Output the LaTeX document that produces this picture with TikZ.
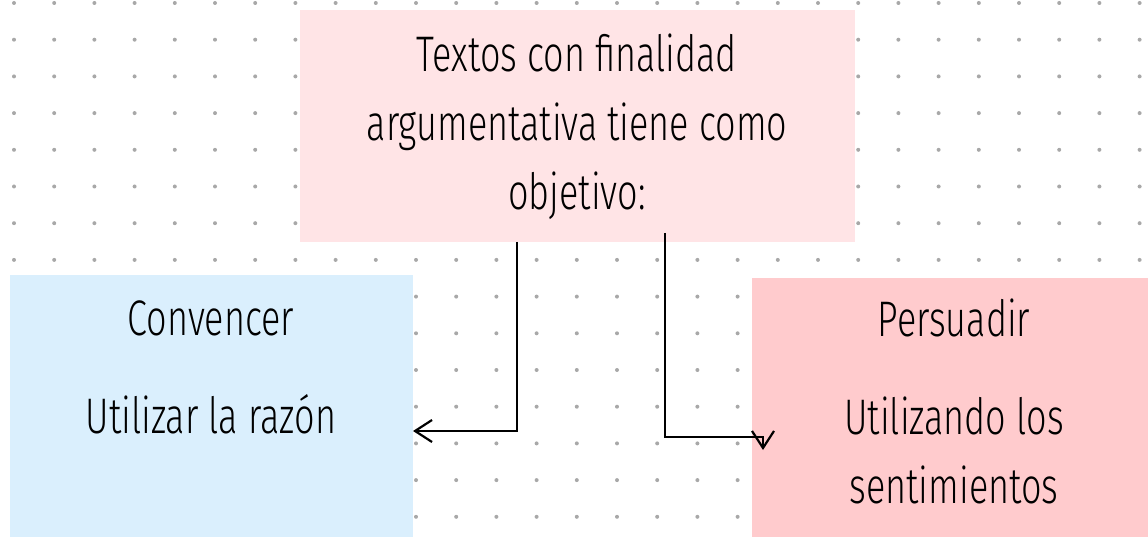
\documentclass[tikz,border=0pt]{standalone}
\usepackage{fontspec}
\newfontfamily\handfont{Fira Sans Light}[FakeStretch=0.72]
\usetikzlibrary{arrows.meta, calc}

\definecolor{dotgrey}{HTML}{A8A8A8}
\definecolor{toppink}{HTML}{FFE4E6}
\definecolor{skyblue}{HTML}{DAEFFD}
\definecolor{rosebox}{HTML}{FFCBCD}

\begin{document}
\begin{tikzpicture}[x=1pt, y=-1pt,
    box/.style={draw=none, inner sep=0pt, outer sep=0pt},
    txt/.style={font=\handfont\fontsize{50}{69}\selectfont, align=center, inner sep=0pt},
    arr/.style={line width=2.2pt, -{Straight Barb[length=17pt, width=22pt]}}]
    \useasboundingbox (0,0) rectangle (1148,537);

    % dotted paper
    \foreach \i in {0,...,28}
        \foreach \j in {0,...,14}
            \fill[dotgrey] (14+\i*40.2, 3+\j*36.7) circle (2pt);

    \node[box, fill=toppink, minimum width=555pt, minimum height=232pt] (objetivo) at (577.5,126) {};
    \node[box, fill=skyblue, minimum width=403pt, minimum height=262pt] (convencer) at (211.5,406) {};
    \node[box, fill=rosebox, minimum width=396pt, minimum height=259pt] (persuadir) at (950,407.5) {};

    % anchor base = baseline of the last line
    \node[txt, anchor=base] (tobjetivo) at (577,210) {Textos con finalidad\\argumentativa tiene como\\objetivo:};
    \node[txt, anchor=base] (tconvencer) at (211,433) {Convencer\\[29pt]Utilizar la razón};
    \node[txt, anchor=base] (tpersuadir) at (954,503) {Persuadir\\[29pt]Utilizando los\\sentimientos};

    \draw[arr] ($(objetivo.south west)+(217,0)$) |- ($(convencer.east)+(0,25)$);
    \draw[arr] ($(objetivo.south west)+(365,-9)$) |- ($(persuadir.north west)+(11,159)$) -- ++(0,13);
\end{tikzpicture}
\end{document}
